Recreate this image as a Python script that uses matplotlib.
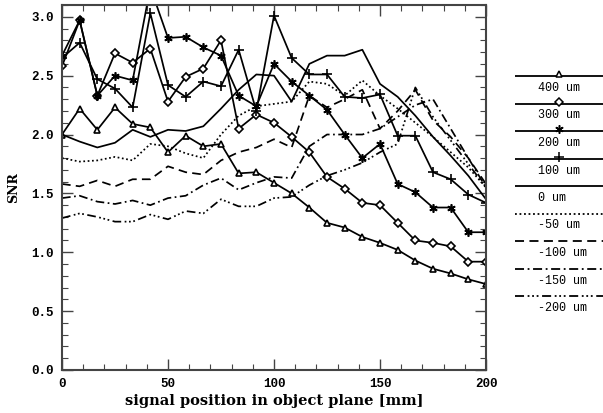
import numpy as np
import matplotlib
matplotlib.use("Agg")
import matplotlib.pyplot as plt

# signal positions (mm)
positions = np.linspace(0, 200, 25)

labels = ["400 um", "300 um", "200 um", "100 um", "0 um",
          "-50 um", "-100 um", "-150 um", "-200 um"]

snr_400 = [2.00, 2.22, 2.04, 2.23, 2.09, 2.06, 1.85, 1.99, 1.90, 1.92, 1.67, 1.68, 1.59,
           1.50, 1.38, 1.25, 1.21, 1.13, 1.08, 1.02, 0.93, 0.86, 0.82, 0.77, 0.73]
snr_300 = [2.58, 2.97, 2.33, 2.69, 2.61, 2.73, 2.28, 2.49, 2.56, 2.80, 2.05, 2.17, 2.10,
           1.98, 1.85, 1.64, 1.54, 1.42, 1.40, 1.25, 1.10, 1.08, 1.05, 0.92, 0.92]
snr_200 = [2.67, 2.97, 2.33, 2.50, 2.46, 3.25, 2.82, 2.83, 2.74, 2.67, 2.33, 2.24, 2.60,
           2.45, 2.33, 2.21, 2.00, 1.80, 1.92, 1.58, 1.51, 1.38, 1.38, 1.17, 1.17]
snr_100 = [2.65, 2.78, 2.47, 2.39, 2.23, 3.03, 2.42, 2.32, 2.45, 2.41, 2.72, 2.20, 3.01,
           2.65, 2.51, 2.51, 2.32, 2.31, 2.34, 1.99, 1.99, 1.68, 1.62, 1.49, 1.42]
snr_0 = [2.00, 1.94, 1.89, 1.93, 2.04, 1.98, 2.04, 2.03, 2.07, 2.22, 2.38, 2.51, 2.50,
         2.28, 2.60, 2.67, 2.67, 2.72, 2.43, 2.32, 2.16, 1.98, 1.82, 1.65, 1.45]
snr_m50 = [1.80, 1.77, 1.78, 1.81, 1.78, 1.92, 1.90, 1.84, 1.80, 2.00, 2.16, 2.24, 2.26,
           2.28, 2.45, 2.43, 2.33, 2.46, 2.33, 2.22, 2.10, 1.98, 1.85, 1.72, 1.55]
snr_m100 = [1.58, 1.56, 1.61, 1.56, 1.62, 1.62, 1.73, 1.68, 1.66, 1.78, 1.85, 1.89, 1.96,
            1.89, 2.33, 2.23, 2.30, 2.38, 2.05, 2.20, 2.38, 2.12, 1.98, 1.80, 1.58]
snr_m150 = [1.46, 1.48, 1.43, 1.41, 1.44, 1.40, 1.46, 1.48, 1.57, 1.63, 1.53, 1.59, 1.64,
            1.63, 1.90, 2.00, 2.00, 2.00, 2.05, 2.15, 2.25, 2.30, 2.05, 1.80, 1.55]
snr_m200 = [1.29, 1.33, 1.30, 1.26, 1.26, 1.32, 1.28, 1.35, 1.33, 1.45, 1.39, 1.39, 1.46,
            1.47, 1.57, 1.65, 1.70, 1.76, 1.85, 1.92, 2.40, 2.15, 1.95, 1.75, 1.55]

series = [snr_400, snr_300, snr_200, snr_100, snr_0, snr_m50, snr_m100, snr_m150, snr_m200]

# line style / marker per series
styles = ["-", "-", "-", "-", "-", (0, (1, 1.5)), (0, (5, 3)),
          (0, (5, 2, 1, 2)), (0, (5, 2, 1, 1.5, 1, 1.5, 1, 2))]
markers = ["^", "D", (6, 2, 0), "+", None, None, None, None, None]
msizes = [5, 4, 6, 6.5, 0, 0, 0, 0, 0]

mono = "Liberation Mono"
serif = "DejaVu Serif"

fig = plt.figure(figsize=(6.03, 4.13), dpi=100)
ax = fig.add_axes([62 / 603, 1 - 370 / 413, 424 / 603, 365 / 413])

for vals, ls, mk, ms in zip(series, styles, markers, msizes):
    ax.plot(positions, vals, color="black", linestyle=ls, linewidth=1.25,
            marker=mk, markersize=ms, markerfacecolor="white",
            markeredgecolor="black", markeredgewidth=1.2)

ax.set_xlim(0, 200)
ax.set_ylim(0, 3.1)
ax.set_xticks([0, 50, 100, 150, 200])
ax.set_xticks(np.arange(0, 201, 10), minor=True)
ax.set_yticks([0.0, 0.5, 1.0, 1.5, 2.0, 2.5, 3.0])
ax.set_yticks(np.arange(0, 3.11, 0.1), minor=True)
ax.set_yticklabels(["%.1f" % v for v in [0.0, 0.5, 1.0, 1.5, 2.0, 2.5, 3.0]])
ax.tick_params(which="both", direction="in", top=True, right=True, color="#444444")
ax.tick_params(which="major", length=8, width=1.0, pad=6)
ax.tick_params(which="minor", length=4, width=0.8)
for t in ax.get_xticklabels() + ax.get_yticklabels():
    t.set_fontfamily(mono)
    t.set_fontweight("bold")
    t.set_fontsize(9)
for sp in ax.spines.values():
    sp.set_color("#444444")
    sp.set_linewidth(1.5)

ax.set_xlabel("signal position in object plane [mm]", fontfamily=serif,
              fontweight="bold", fontsize=10.5, labelpad=3)
ax.set_ylabel("SNR", fontfamily=serif, fontweight="bold", fontsize=9, labelpad=8)

# legend drawn on its own axes to the right
lax = fig.add_axes([515 / 603, 0, 88 / 603, 1])
lax.set_xlim(0, 88)
lax.set_ylim(413, 0)
lax.axis("off")
for k, (lab, ls, mk, ms) in enumerate(zip(labels, styles, markers, msizes)):
    yl = 76 + k * 27.5
    lax.plot([0, 88], [yl, yl], color="black", linestyle=ls, linewidth=1.3)
    if mk is not None:
        lax.plot([44], [yl - 2], color="black", marker=mk, markersize=ms,
                 markerfacecolor="white", markeredgecolor="black", markeredgewidth=1.1)
    lax.text(23, yl + 12, lab, fontfamily=mono, fontsize=8.5, ha="left", va="center")

fig.savefig("out.png", dpi=100, facecolor="white")
